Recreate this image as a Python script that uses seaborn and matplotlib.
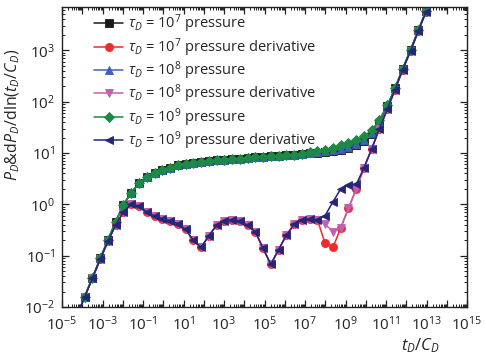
import numpy as np
import pandas as pd
import matplotlib
matplotlib.use("Agg")
import matplotlib.pyplot as plt
import seaborn as sns

# log10(tD/CD) of each computed point
log_t = [-4.26, -3.88, -3.50, -3.11, -2.73, -2.35, -1.97, -1.58, -1.20, -0.82,
         -0.43, -0.05, 0.33, 0.72, 1.10, 1.48, 1.87, 2.25, 2.63, 3.01,
         3.40, 3.78, 4.16, 4.55, 4.93, 5.31, 5.69, 6.08, 6.46, 6.84,
         7.23, 7.61, 7.99, 8.38, 8.76, 9.14, 9.53, 9.91, 10.29, 10.67,
         11.06, 11.44, 11.82, 12.21, 12.59, 12.97]

# log10 of pressure, shared part (first 30 points) + tail for each tau
p_common = [-2.17, -1.80, -1.43, -1.05, -0.69, -0.34, -0.01, 0.23, 0.41, 0.53,
            0.61, 0.67, 0.71, 0.76, 0.79, 0.80, 0.82, 0.84, 0.855, 0.87,
            0.88, 0.89, 0.905, 0.915, 0.93, 0.94, 0.95, 0.96, 0.97, 0.985]
p_tau7 = [0.995, 1.005, 1.015, 1.03, 1.05, 1.09, 1.15, 1.24, 1.37, 1.59,
          1.91, 2.26, 2.64, 3.01, 3.39, 3.76]
p_tau8 = [1.0, 1.015, 1.03, 1.05, 1.075, 1.11, 1.17, 1.26, 1.39, 1.61,
          1.92, 2.26, 2.64, 3.01, 3.39, 3.76]
p_tau9 = [1.01, 1.035, 1.065, 1.095, 1.15, 1.195, 1.26, 1.33, 1.445, 1.645,
          1.93, 2.26, 2.64, 3.01, 3.39, 3.76]

# log10 of pressure derivative, shared part (first 32 points) + tails
d_common = [-2.17, -1.80, -1.44, -1.07, -0.72, -0.40, -0.15, 0.0, -0.03, -0.15,
            -0.23, -0.28, -0.32, -0.375, -0.49, -0.70, -0.84, -0.61, -0.41, -0.32,
            -0.30, -0.32, -0.41, -0.54, -0.86, -1.17, -0.885, -0.60, -0.39, -0.30,
            -0.29, -0.30]
d_tau7 = [-0.76, -0.84, -0.46, -0.08, 0.30, 0.71, 1.08, 1.47, 1.85, 2.23,
          2.62, 2.99, 3.37, 3.75]
d_tau8 = [-0.39, -0.53, -0.46, -0.08, 0.30, 0.71, 1.08, 1.47, 1.85, 2.23,
          2.62, 2.99, 3.37, 3.75]
d_tau9 = [-0.22, 0.05, 0.30, 0.38, 0.39, 0.71, 1.08, 1.47, 1.85, 2.23,
          2.62, 2.99, 3.37, 3.75]

labels = [r"$\tau_D$ = 10$^7$ pressure",
          r"$\tau_D$ = 10$^7$ pressure derivative",
          r"$\tau_D$ = 10$^8$ pressure",
          r"$\tau_D$ = 10$^8$ pressure derivative",
          r"$\tau_D$ = 10$^9$ pressure",
          r"$\tau_D$ = 10$^9$ pressure derivative"]
colors = ["#1a1a1a", "#ee2a2a", "#4060b8", "#c060b0", "#1a8a45", "#25257a"]
markers = ["s", "o", "^", "v", "D", "<"]
series = [p_common + p_tau7, d_common + d_tau7,
          p_common + p_tau8, d_common + d_tau8,
          p_common + p_tau9, d_common + d_tau9]

sns.set_style("ticks")
plt.rcParams["font.family"] = ["Open Sans", "DejaVu Sans"]
plt.rcParams["mathtext.fontset"] = "custom"
plt.rcParams["mathtext.rm"] = "Open Sans"
plt.rcParams["mathtext.it"] = "Open Sans:italic"

fig = plt.figure(figsize=(4.86, 3.58), dpi=100)
ax = fig.add_axes([0.1276, 0.1425, 0.8334, 0.838])
ax.set(xscale="log", yscale="log")

t = 10 ** np.array(log_t)
for lab, col, mk, vals in zip(labels, colors, markers, series):
    sns.lineplot(x=t, y=10 ** np.array(vals), ax=ax, color=col, marker=mk,
                 markersize=5.8 if mk != "D" else 5.2, markeredgecolor=col,
                 markeredgewidth=0.6, linewidth=1.1, label=lab,
                 errorbar=None, sort=False)

ax.set_xlim(1e-5, 1e15)
ax.set_ylim(1e-2, 7000)
decades = [10.0 ** e for e in range(-5, 16)]
ax.set_xticks(decades)
ax.set_xticklabels([r"$10^{%d}$" % e if e % 2 else "" for e in range(-5, 16)])
ax.set_yticks([10.0 ** e for e in range(-2, 4)])
ax.set_yticklabels([r"$10^{%d}$" % e for e in range(-2, 4)])
ax.xaxis.set_minor_locator(matplotlib.ticker.LogLocator(base=10, subs=np.arange(2, 10), numticks=40))
ax.yaxis.set_minor_locator(matplotlib.ticker.LogLocator(base=10, subs=np.arange(2, 10), numticks=40))
ax.xaxis.set_minor_formatter(matplotlib.ticker.NullFormatter())
ax.yaxis.set_minor_formatter(matplotlib.ticker.NullFormatter())
ax.tick_params(which="both", direction="in", top=True, right=True, labelsize=11, colors="#222222")
ax.tick_params(which="major", length=5, width=0.9)
ax.tick_params(which="minor", length=2.5, width=0.7)
ax.tick_params(axis="x", which="major", pad=6)
ax.tick_params(axis="y", which="major", pad=5)
for s in ax.spines.values():
    s.set_linewidth(1.0)
    s.set_color("#222222")

ax.set_xlabel(r"$t_D/C_D$", fontsize=12)
ax.xaxis.set_label_coords(0.885, -0.098)
ax.set_ylabel(r"$P_D$&d$P_D$/dln($t_D$/$C_D$)", fontsize=11.5)
ax.yaxis.set_label_coords(-0.10, 0.64)

ax.legend(loc="upper left", frameon=False, fontsize=10.5, handlelength=2.0,
          labelspacing=0.05, borderaxespad=0.0, handletextpad=0.35,
          bbox_to_anchor=(0.065, 1.0))

fig.savefig("out.png", dpi=100)
